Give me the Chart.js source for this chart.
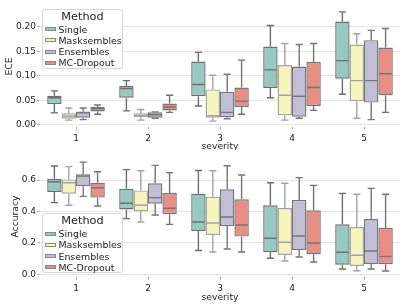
<!DOCTYPE html>
<html><head><meta charset="utf-8">
<script src="https://cdn.jsdelivr.net/npm/chart.js@4"></script>
<style>
html,body{margin:0;padding:0;background:#fff;width:407px;height:305px;overflow:hidden;font-family:"DejaVu Sans",sans-serif;}
canvas{position:absolute;left:0;}
#c1{top:0;} #c2{top:150px;}
.leg{position:absolute;left:42px;width:81px;height:60px;box-sizing:border-box;border:1px solid #d6d6d6;border-radius:3px;background:rgba(255,255,255,0.85);}
.leg .t{position:absolute;left:0;width:100%;text-align:center;font-size:11.3px;color:#222;line-height:12px;}
.leg .r{position:absolute;left:1.5px;height:12px;line-height:12px;font-size:9.4px;color:#222;white-space:nowrap;}
.leg .p{display:inline-block;width:11px;height:4px;box-sizing:border-box;border:0.8px solid #888;vertical-align:middle;margin-right:3px;position:relative;top:-1px;}
</style></head>
<body>
<canvas id="c1" width="407" height="150"></canvas>
<canvas id="c2" width="407" height="155"></canvas>
<div class="leg" id="l1" style="top:8.5px"></div>
<div class="leg" id="l2" style="top:213px"></div>
<script>
// ---- data ----
const severities = ['1','2','3','4','5'];
const methods = ['Single','Masksembles','Ensembles','MC-Dropout'];
const fillColors = ['#96cac1','#f5f5bc','#c1bed6','#ea8e83'];
const lineColors = ['#6e6e6e','#a4a4a4','#767676','#747474'];
// five-number summaries [min, q1, median, q3, max] per severity
const eceSingle = [[0.024,0.042,0.055,0.059,0.069],[0.028,0.055,0.074,0.079,0.090],[0.038,0.058,0.082,0.129,0.148],[0.055,0.075,0.112,0.160,0.203],[0.062,0.094,0.131,0.211,0.231]];
const eceMask   = [[0.009,0.012,0.017,0.023,0.034],[0.009,0.015,0.018,0.023,0.031],[0.007,0.014,0.018,0.072,0.101],[0.009,0.019,0.060,0.122,0.166],[0.013,0.048,0.090,0.164,0.186]];
const eceEns    = [[0.010,0.014,0.024,0.027,0.034],[0.013,0.014,0.020,0.025,0.026],[0.012,0.015,0.025,0.067,0.103],[0.013,0.016,0.058,0.119,0.164],[0.010,0.045,0.090,0.173,0.193]];
const eceMC     = [[0.021,0.027,0.033,0.036,0.040],[0.025,0.029,0.036,0.043,0.060],[0.021,0.036,0.048,0.076,0.132],[0.029,0.038,0.076,0.128,0.166],[0.025,0.060,0.104,0.158,0.197]];
const accSingle = [[0.456,0.524,0.589,0.608,0.689],[0.354,0.413,0.452,0.545,0.666],[0.151,0.276,0.333,0.513,0.661],[0.102,0.140,0.229,0.439,0.583],[0.034,0.061,0.140,0.318,0.515]];
const accMask   = [[0.439,0.513,0.583,0.604,0.685],[0.333,0.401,0.439,0.534,0.659],[0.142,0.250,0.326,0.494,0.659],[0.085,0.123,0.204,0.422,0.579],[0.023,0.053,0.121,0.301,0.509]];
const accEns    = [[0.496,0.560,0.625,0.636,0.714],[0.377,0.449,0.488,0.579,0.693],[0.161,0.307,0.365,0.541,0.691],[0.110,0.155,0.244,0.473,0.615],[0.034,0.066,0.148,0.352,0.547]];
const accMC     = [[0.435,0.488,0.551,0.583,0.653],[0.318,0.382,0.420,0.517,0.647],[0.142,0.240,0.314,0.477,0.632],[0.078,0.127,0.199,0.407,0.566],[0.021,0.064,0.114,0.295,0.509]];
const eceTicks = [0, 0.05, 0.10, 0.15, 0.20];
const accTicks = [0, 0.2, 0.4, 0.6];

// ---- drawing ----
const boxPlugin = {
  id: 'boxWhiskers',
  afterDatasetsDraw(chart) {
    const ctx = chart.ctx, ys = chart.scales.y;
    const p = v => ys.getPixelForValue(v);
    chart.data.datasets.forEach((ds, i) => {
      const meta = chart.getDatasetMeta(i);
      meta.data.forEach((bar, j) => {
        const s = ds.stats[j];
        const x = bar.x, half = bar.width / 2, cap = bar.width / 4;
        ctx.save();
        ctx.strokeStyle = ds.borderColor; ctx.lineWidth = 1.4; ctx.lineCap = 'butt';
        ctx.beginPath();
        ctx.moveTo(x, p(s[3])); ctx.lineTo(x, p(s[4]));
        ctx.moveTo(x, p(s[1])); ctx.lineTo(x, p(s[0]));
        ctx.moveTo(x - cap, p(s[4])); ctx.lineTo(x + cap, p(s[4]));
        ctx.moveTo(x - cap, p(s[0])); ctx.lineTo(x + cap, p(s[0]));
        ctx.moveTo(x - half + 1, p(s[2])); ctx.lineTo(x + half - 1, p(s[2]));
        ctx.stroke();
        ctx.restore();
      });
    });
  }
};

function makeChart(id, series, yMin, yMax, ticks, dec, yTitle, yTitlePad, plotTop, xHeight, xTitlePadBottom) {
  const datasets = series.map((st, i) => ({
    label: methods[i],
    data: st.map(s => [s[1], s[3]]),
    stats: st,
    backgroundColor: fillColors[i],
    borderColor: lineColors[i],
    borderWidth: 1.4,
    borderSkipped: false,
    categoryPercentage: 0.8,
    barPercentage: 1.0
  }));
  return new Chart(document.getElementById(id), {
    type: 'bar',
    data: { labels: severities, datasets },
    plugins: [boxPlugin],
    options: {
      responsive: false, animation: false, devicePixelRatio: 1,
      layout: { padding: { top: plotTop, right: 7, left: 0, bottom: 0 } },
      plugins: { legend: { display: false }, tooltip: { enabled: false } },
      scales: {
        x: {
          grid: { display: true, drawOnChartArea: false, drawTicks: true, tickLength: 3, tickColor: '#a0a0a0', offset: false },
          border: { display: false },
          ticks: { color: '#222', font: { family: 'DejaVu Sans', size: 9 }, padding: 4 },
          title: { display: true, text: 'severity', color: '#222', font: { family: 'DejaVu Sans', size: 9.2 }, padding: { top: 0, bottom: xTitlePadBottom } },
          afterFit: s => { s.height = xHeight; }
        },
        y: {
          min: yMin, max: yMax,
          afterBuildTicks: s => { s.ticks = ticks.map(v => ({ value: v })); },
          grid: { color: '#dcdcdc', lineWidth: 0.8, borderDash: [2.5, 1.5], tickLength: 3, tickColor: '#a0a0a0', tickBorderDash: [] },
          border: { display: false },
          ticks: { color: '#222', font: { family: 'DejaVu Sans', size: 9 }, padding: 1, callback: v => Number(v).toFixed(dec) },
          title: { display: true, text: yTitle, color: '#222', font: { family: 'DejaVu Sans', size: 9.2 }, padding: { top: yTitlePad, bottom: 0 } },
          afterFit: s => { s.width = 40; }
        }
      }
    }
  });
}

makeChart('c1', [eceSingle, eceMask, eceEns, eceMC], -0.004, 0.242, eceTicks, 2, 'ECE', 4.5, 6.5, 23.5, -2.5);
makeChart('c2', [accSingle, accMask, accEns, accMC], -0.014, 0.749, accTicks, 1, 'Accuracy', 9.8, 6.6, 28.5, 2);

function buildLegend(id) {
  const el = document.getElementById(id);
  let h = '<div class="t" style="top:1px">Method</div>';
  const tops = [14, 25.3, 36.6, 47.9];
  methods.forEach((m, i) => {
    h += '<div class="r" style="top:' + tops[i] + 'px"><span class="p" style="background:' + fillColors[i] + '"></span>' + m + '</div>';
  });
  el.innerHTML = h;
}
buildLegend('l1'); buildLegend('l2');
</script>
</body></html>
